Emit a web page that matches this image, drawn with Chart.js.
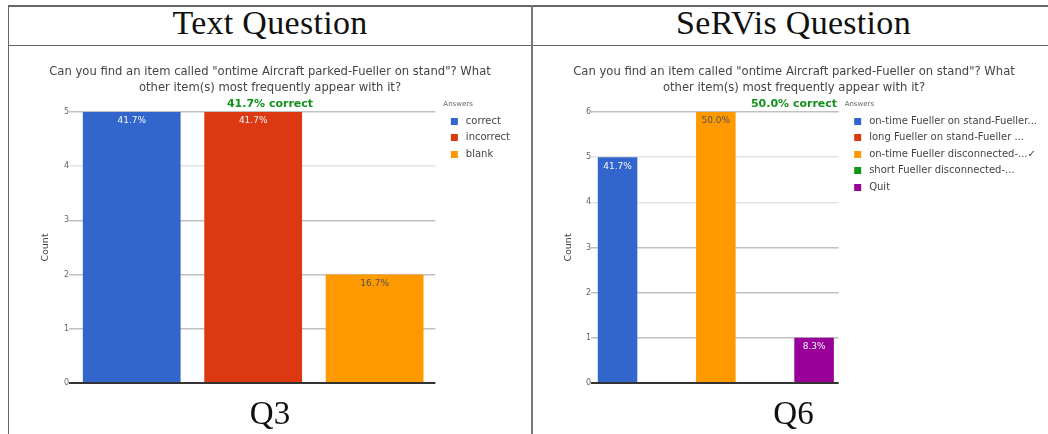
<!DOCTYPE html>
<html>
<head>
<meta charset="utf-8">
<script src="https://cdn.jsdelivr.net/npm/chart.js@4/dist/chart.umd.min.js"></script>
<style>
  html, body { margin: 0; padding: 0; background: #fff; }
  body { width: 1048px; height: 434px; overflow: hidden; position: relative; }
  .rule { position: absolute; background: #666; }
  .head, .foot {
    position: absolute; text-align: center; color: #111;
    font-family: "Liberation Serif", serif; white-space: nowrap;
  }
  .head { font-size: 34px; line-height: 34px; letter-spacing: 0.3px; }
  .foot { font-size: 33px; line-height: 33px; }
  canvas { position: absolute; }
</style>
</head>
<body>
  <!-- table frame -->
  <div class="rule" style="left:8px; top:5px; width:1048px; height:1.5px;"></div>
  <div class="rule" style="left:8px; top:44.5px; width:1048px; height:1.5px;"></div>
  <div class="rule" style="left:7.5px; top:5px; width:1.5px; height:440px;"></div>
  <div class="rule" style="left:531px; top:5px; width:2px; height:440px; background:#777;"></div>

  <div class="head" style="left:8px; width:524px; top:6px;">Text Question</div>
  <div class="head" style="left:532px; width:523px; top:6px;">SeRVis Question</div>

  <canvas id="q3" width="522" height="350" style="left:9px; top:46px;"></canvas>
  <canvas id="q6" width="522" height="350" style="left:533px; top:46px;"></canvas>

  <div class="foot" style="left:8px; width:524px; top:397px;">Q3</div>
  <div class="foot" style="left:532px; width:523px; top:397px;">Q6</div>

<script>
// ---- Q3 (text question) ----
const q3Question = ['Can you find an item called "ontime Aircraft parked-Fueller on stand"? What',
                    'other item(s) most frequently appear with it?'];
const q3Answers = ['correct', 'incorrect', 'blank'];
const q3Counts = [5, 5, 2];
const q3CorrectIndex = 0;
const q3Ticks = [0, 1, 2, 3, 4, 5];

// ---- Q6 (SeRVis question) ----
const q6Question = q3Question;
const q6Answers = ['on-time Fueller on stand-Fueller...', 'long Fueller on stand-Fueller ...',
                   'on-time Fueller disconnected-...\u2713', 'short Fueller disconnected-...', 'Quit'];
const q6Counts = [5, 0, 6, 0, 1];
const q6CorrectIndex = 2;
const q6Ticks = [0, 1, 2, 3, 4, 5, 6];

const answerColors = ['#3366cc', '#dc3912', '#ff9900', '#109618', '#990099'];

Chart.defaults.font.family = '"DejaVu Sans", Verdana, sans-serif';
Chart.defaults.color = '#444';

// small legend swatch: a 7x7 square inside a wider transparent strip
function swatch(color) {
  const c = document.createElement('canvas');
  c.width = 19; c.height = 7;
  const g = c.getContext('2d');
  g.fillStyle = color;
  g.fillRect(9, 0, 7, 7);
  return c;
}

function isLight(hex) {
  const n = parseInt(hex.slice(1), 16);
  const r = n >> 16, g = (n >> 8) & 255, b = n & 255;
  return (0.299 * r + 0.587 * g + 0.114 * b) > 150;
}

// percentage text inside each bar, just under its top edge
const barPercentLabels = {
  id: 'barPercentLabels',
  afterDatasetsDraw(chart) {
    const ds = chart.data.datasets[0];
    const total = ds.data.reduce((a, b) => a + b, 0);
    const ctx = chart.ctx;
    ctx.save();
    ctx.font = '9px "DejaVu Sans"';
    ctx.textAlign = 'center';
    ctx.textBaseline = 'middle';
    chart.getDatasetMeta(0).data.forEach((bar, i) => {
      const v = ds.data[i];
      if (!v) return;
      ctx.fillStyle = isLight(ds.backgroundColor[i]) ? '#555' : '#f4f6fb';
      ctx.fillText((v / total * 100).toFixed(1) + '%', bar.x, bar.y + 9);
    });
    ctx.restore();
  }
};

// green "xx.x% correct" summary above the plot, and the small legend heading
const correctSummary = {
  id: 'correctSummary',
  afterDraw(chart, args, opts) {
    const data = chart.data.datasets[0].data;
    const total = data.reduce((a, b) => a + b, 0);
    const pct = (data[opts.index] / total * 100).toFixed(1);
    const ctx = chart.ctx;
    ctx.save();
    ctx.font = 'bold 11px "DejaVu Sans"';
    ctx.fillStyle = '#14901c';
    ctx.textAlign = 'center';
    ctx.textBaseline = 'middle';
    ctx.fillText(pct + '% correct', chart.width / 2, chart.chartArea.top - 8);
    ctx.font = '7px "DejaVu Sans"';
    ctx.fillStyle = '#666';
    ctx.textAlign = 'left';
    ctx.fillText(opts.heading, chart.legend.left + opts.headingOffset, chart.legend.top - 8);
    ctx.restore();
  }
};

function makeChart(id, question, answers, counts, correctIndex, ticks, lightGrid, pad) {
  return new Chart(document.getElementById(id), {
    type: 'bar',
    data: {
      labels: answers,
      datasets: [{
        data: counts,
        backgroundColor: answers.map((_, i) => answerColors[i]),
        barPercentage: 0.805,
        categoryPercentage: 1.0
      }]
    },
    options: {
      responsive: false,
      animation: false,
      layout: { padding: { left: pad.side, right: pad.side, top: 0, bottom: 13 } },
      scales: {
        x: { display: false },
        y: {
          min: ticks[0],
          max: ticks[ticks.length - 1],
          afterBuildTicks(scale) { scale.ticks = ticks.map(v => ({ value: v })); },
          border: { display: false },
          grid: {
            color: c => c.tick.value === 0 ? '#333' : (lightGrid.includes(c.tick.value) ? '#e3e3e3' : '#c0c0c0'),
            lineWidth: c => c.tick.value === 0 ? 2 : 1.5,
            tickLength: 2,
            drawTicks: true
          },
          ticks: { font: { size: 8 }, color: '#666', padding: 0 },
          title: {
            display: true, text: 'Count', color: '#444',
            font: { size: 9.5 }, padding: { top: pad.titleBefore, bottom: pad.titleAfter }
          }
        }
      },
      plugins: {
        title: {
          display: true, text: question, color: '#444',
          font: { size: 11.6, weight: 'normal', lineHeight: '16px' },
          padding: { top: 18, bottom: 16 }
        },
        legend: {
          position: 'right',
          align: 'start',
          fullSize: false,
          maxWidth: 400,
          title: { display: true, text: '', font: { size: 7 }, padding: { top: -12, bottom: 1.5 } },
          labels: {
            usePointStyle: true,
            pointStyleWidth: 19,
            boxHeight: 7,
            padding: 6.5,
            color: '#444',
            font: { size: 10 },
            generateLabels(chart) {
              const ds = chart.data.datasets[0];
              return chart.data.labels.map((label, i) => ({
                text: label,
                fillStyle: ds.backgroundColor[i],
                strokeStyle: ds.backgroundColor[i],
                lineWidth: 0,
                pointStyle: swatch(ds.backgroundColor[i]),
                fontColor: '#444',
                hidden: false,
                index: i
              }));
            }
          }
        },
        tooltip: { enabled: false },
        correctSummary: { index: correctIndex, heading: 'Answers', headingOffset: pad.heading }
      }
    },
    plugins: [barPercentLabels, correctSummary]
  });
}

makeChart('q3', q3Question, q3Answers, q3Counts, q3CorrectIndex, q3Ticks, [4],
          { side: 11, titleBefore: 20.3, titleAfter: 12.2, heading: 8 });
makeChart('q6', q6Question, q6Answers, q6Counts, q6CorrectIndex, q6Ticks, [4, 5],
          { side: 8, titleBefore: 22.3, titleAfter: 11.2, heading: 6 });
</script>
</body>
</html>
